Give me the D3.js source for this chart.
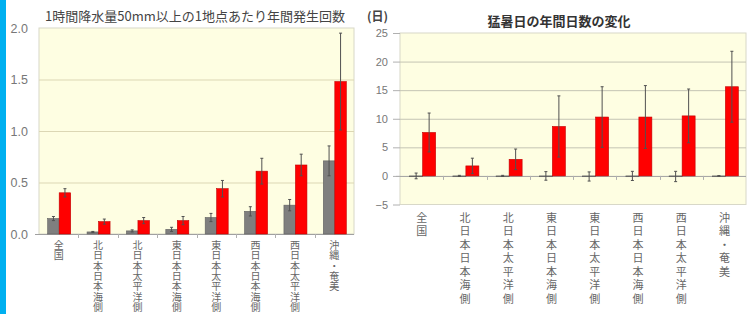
<!DOCTYPE html>
<html><head><meta charset="utf-8">
<script src="https://cdn.jsdelivr.net/npm/d3@7"></script>
<style>
html,body{margin:0;padding:0;background:#fff;}
svg{display:block;font-family:"Noto Sans CJK JP","Noto Sans",sans-serif;}
.vt{writing-mode:vertical-rl;text-orientation:upright;}
</style></head>
<body>
<svg id="c" width="749" height="314"></svg>
<script>
const regions = ["全国","北日本日本海側","北日本太平洋側","東日本日本海側","東日本太平洋側","西日本日本海側","西日本太平洋側","沖縄・奄美"];
const rainPast = [0.15,0.02,0.03,0.045,0.16,0.22,0.28,0.71];
const rainPastErr = [0.02,0.005,0.01,0.02,0.04,0.045,0.055,0.145];
const rainFuture = [0.40,0.12,0.13,0.13,0.44,0.61,0.67,1.48];
const rainFutureErr = [0.04,0.025,0.03,0.04,0.08,0.125,0.105,0.47];
const rainTicks = [0,0.5,1.0,1.5,2.0];
const heatPast = [0,0,0,0,-0.1,0,-0.1,0];
const heatPastErr = [0.5,0.1,0.1,0.75,0.8,0.8,0.9,0.05];
const heatFuture = [7.6,1.75,2.9,8.65,10.3,10.3,10.5,15.6];
const heatFutureErr = [3.4,1.35,1.8,5.35,5.3,5.5,4.7,6.2];
const heatTicks = [-5,0,5,10,15,20,25];

const svg = d3.select("#c");
svg.append("rect").attr("x",0).attr("y",0).attr("width",6).attr("height",314).attr("fill","#00b0f0");

function panel(o){
  const g = svg.append("g");
  const x = d3.scaleBand().domain(regions).range([o.x0,o.x1]);
  const y = d3.scaleLinear().domain(o.domain).range([o.yb,o.yt]);
  g.append("rect").attr("x",o.x0).attr("y",o.yt).attr("width",o.x1-o.x0).attr("height",o.yb-o.yt)
    .attr("fill","#fefee2").attr("stroke","#d8d8c8").attr("stroke-width",1);
  g.selectAll(".grid").data(o.ticks.filter(t=>t!==o.domain[0]&&t!==o.domain[1]&&t!==0)).enter().append("line")
    .attr("x1",o.x0).attr("x2",o.x1).attr("y1",d=>y(d)+0.5).attr("y2",d=>y(d)+0.5)
    .attr("stroke",o.grid).attr("stroke-width",1);
  g.append("line").attr("x1",o.x0-4).attr("x2",o.x1).attr("y1",y(0)+0.5).attr("y2",y(0)+0.5).attr("stroke","#a0a0a0");
  const ya = d3.axisLeft(y).tickValues(o.ticks).tickFormat(o.fmt).tickSize(o.tick).tickPadding(o.pad);
  const yg = g.append("g").attr("transform",`translate(${o.x0},0)`).call(ya);
  yg.select(".domain").remove();
  yg.selectAll(".tick line").attr("stroke","#b0b0b0");
  yg.selectAll(".tick text").attr("fill","#777").attr("font-size",o.yfs).attr("font-family","Liberation Sans, Arial, sans-serif");
  g.selectAll(".xt").data(regions.slice(1)).enter().append("line")
    .attr("x1",d=>Math.round(x(d))+0.5).attr("x2",d=>Math.round(x(d))+0.5)
    .attr("y1",y(0)).attr("y2",y(0)+4).attr("stroke","#b0b0b0");
  const bw = o.bw;
  const cx = d => x(d)+x.bandwidth()/2 + o.shift;
  function bars(vals, errs, fill, stroke, off){
    g.selectAll(null).data(regions).enter().append("rect")
      .attr("x",d=>cx(d)+off).attr("width",bw)
      .attr("y",(d,i)=>Math.min(y(vals[i]),y(0)))
      .attr("height",(d,i)=>Math.max(Math.abs(y(vals[i])-y(0)),0.8))
      .attr("fill",fill).attr("stroke",stroke).attr("stroke-width",0.6);
    const ex = d=>cx(d)+off+bw/2;
    g.selectAll(null).data(regions).enter().append("line")
      .attr("x1",ex).attr("x2",ex)
      .attr("y1",(d,i)=>y(vals[i]+errs[i])).attr("y2",(d,i)=>y(vals[i]-errs[i]))
      .attr("stroke","#505050").attr("stroke-width",1);
    [1,-1].forEach(s=>{
      g.selectAll(null).data(regions).enter().append("line")
        .attr("x1",d=>ex(d)-1.5).attr("x2",d=>ex(d)+1.5)
        .attr("y1",(d,i)=>y(vals[i]+s*errs[i])).attr("y2",(d,i)=>y(vals[i]+s*errs[i]))
        .attr("stroke","#505050").attr("stroke-width",1);
    });
  }
  bars(o.past,o.pastErr,"#7f7f7f","#606060",-bw);
  bars(o.fut,o.futErr,"#ff0000","#c00000",0);
  g.selectAll(null).data(regions).enter().append("text")
    .attr("class","vt")
    .attr("x",d=>x(d)+x.bandwidth()/2).attr("y",o.ly)
    .attr("fill","#666").attr("font-size",o.lfs)
    .style("letter-spacing",o.ls+"px")
    .text(d=>d);
  return {x,y};
}

panel({x0:39,x1:354,yt:28,yb:234,domain:[0,2],ticks:rainTicks,fmt:d3.format(".1f"),
  tick:0,pad:11,yfs:12.5,grid:"#dcd7b4",bw:11.5,shift:0.5,
  past:rainPast,pastErr:rainPastErr,fut:rainFuture,futErr:rainFutureErr,
  lfs:10,ly:240,ls:0.4});
panel({x0:400,x1:746,yt:33,yb:204.5,domain:[-5,25],ticks:heatTicks,fmt:d3.format("d"),
  tick:7,pad:5,yfs:11,grid:"#c4c4b4",bw:13,shift:1,
  past:heatPast,pastErr:heatPastErr,fut:heatFuture,futErr:heatFutureErr,
  lfs:11,ly:212,ls:2.5});

svg.append("text").attr("x",195).attr("y",21).attr("text-anchor","middle").attr("font-size",13)
  .attr("fill","#444").text("1時間降水量50mm以上の1地点あたり年間発生回数");
svg.append("text").attr("x",559).attr("y",26).attr("text-anchor","middle").attr("font-size",13)
  .attr("font-weight","bold").attr("fill","#333").text("猛暑日の年間日数の変化");
svg.append("text").attr("x",367).attr("y",21).attr("font-size",12)
  .attr("font-weight","bold").attr("fill","#444").text("(日)");
</script>
</body></html>
